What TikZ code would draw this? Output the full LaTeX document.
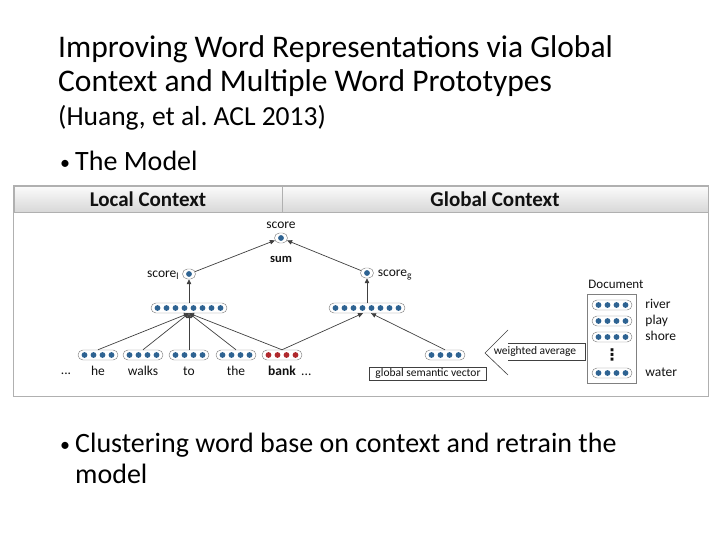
\documentclass[tikz,border=0pt]{standalone}
\usepackage{fontspec}
\setmainfont{Carlito}
\newfontfamily\symfont{DejaVu Sans}
\frenchspacing
\usetikzlibrary{arrows.meta,positioning,fit,calc,shapes.misc}
\definecolor{ink}{HTML}{111111}
\definecolor{edge}{HTML}{404040}
\definecolor{rim}{HTML}{808080}
\definecolor{frame}{HTML}{B0B0B0}
\definecolor{dotblue}{HTML}{2E6392}
\definecolor{dotred}{HTML}{B0282C}
\definecolor{headtop}{HTML}{FBFBFB}
\definecolor{headbot}{HTML}{D8D8D8}

% a word / layer vector: name, position, number of dots, dot colour
\newcommand\unitvec[4]{%
  \node[vecbox,minimum width={#3*9pt+4pt}] (#1) at (#2) {};
  \foreach \k in {1,...,#3}
    \fill[#4] ($(#1.center)+({(\k-(#3+1)/2)*9},0)$) circle (2.9pt);
}
\newcommand\bul{\makebox[15pt][l]{\raisebox{1pt}{\fontsize{20}{20}\selectfont•}}}

\begin{document}
\begin{tikzpicture}[
  x=1pt,y=1pt,
  >={Triangle[length=5pt,width=4.5pt]},
  arr/.style={->,draw=edge,line width=0.7pt},
  vecbox/.style={rounded rectangle,draw=rim,line width=0.45pt,minimum height=10pt,inner sep=0pt},
  headcell/.style={draw=frame,top color=headtop,bottom color=headbot,minimum height=26pt,
                   inner sep=0pt,font=\fontsize{21}{23}\selectfont\bfseries,text=ink},
  word/.style={font=\fontsize{13.5}{15}\selectfont,text=ink,inner sep=1pt,
               text height=9.5pt,text depth=2.5pt},
  tag/.style={draw=edge,line width=0.5pt,font=\fontsize{11.5}{13}\selectfont,
              inner xsep=3pt,inner ysep=1.5pt,text=ink},
  title/.style={font=\fontsize{31.5}{34}\selectfont,anchor=base west,inner sep=0pt},
  body/.style={font=\fontsize{28}{31}\selectfont,anchor=base west,inner sep=0pt}
]
\useasboundingbox (0,0) rectangle (720,540);

% Slide text
\node[title] (title1) at (58,482) {Improving Word Representations via Global};
\node[title] (title2) at (58,448) {Context and Multiple Word Prototypes};
\node[body,font=\fontsize{27.5}{30}\selectfont] (cite) at (58,414) {(Huang, et al. ACL 2013)};
\node[body] (item1) at (60,369) {\bul The Model};
\node[body] (item2) at (60,87) {\bul Clustering word base on context and retrain the};
\node[body] (item2b) at (75,56) {model};

% Frame and header
\node[headcell,minimum width=268pt] (localhd) at (148,341) {Local Context};
\node[headcell,minimum width=426pt] (globalhd) at (495,341) {Global Context};
\coordinate (framebot) at (708,144);
\draw[frame,line width=0.8pt] (localhd.north west) rectangle (framebot);

% Scores and hidden layers
\unitvec{score}{281,302}{1}{dotblue}
\unitvec{scorel}{189,266}{1}{dotblue}
\unitvec{scoreg}{367,267}{1}{dotblue}
\unitvec{hidl}{189,232}{8}{dotblue}
\unitvec{hidg}{367,232}{8}{dotblue}

\node[word,above=1pt of score] (scorelbl) {score};
\node[word,font=\fontsize{12.5}{14}\selectfont\bfseries,below=8.5pt of score] (sumlbl) {sum};
\node[word,left=2pt of scorel] (scorellbl) {score\textsubscript{l}};
\node[word,right=3pt of scoreg] (scoreglbl) {score\textsubscript{g}};

% Local context window
\foreach \nm/\xx in {he/98,walks/143,to/189,the/236}
  {\unitvec{\nm}{\xx,185}{4}{dotblue}}
\unitvec{bank}{282,185}{4}{dotred}

\node[word,below=4.5pt of he] (helbl) {he};
\node[word,below=4.5pt of walks] (walkslbl) {walks};
\node[word,below=4.5pt of to] (tolbl) {to};
\node[word,below=4.5pt of the] (thelbl) {the};
\node[word,font=\fontsize{13.5}{15}\selectfont\bfseries,below=4.5pt of bank] (banklbl) {bank};
\node[word] (dotsl) at (66,169) {...};
\node[word,right=3pt of banklbl] (dotsr) {...};

% Global context
\unitvec{gvec}{445,185}{4}{dotblue}
\node[tag,minimum width=117pt] (gsvlbl) at (428,166) {global semantic vector};

\foreach \nm/\yy in {doca/235,docb/219,docc/203,docd/167}
  {\unitvec{\nm}{612,\yy}{4}{dotblue}}
\node[font=\fontsize{16}{17}\selectfont\symfont\bfseries,text=ink,inner sep=0pt] (docdots) at (612,185) {⋮};
\node[draw=rim,line width=0.6pt,fit=(doca)(docd),inner xsep=4pt,inner ysep=5.5pt] (docbox) {};
\node[word,font=\fontsize{13}{15}\selectfont,above=2pt of docbox,xshift=4pt] (doclbl) {Document};
\node[word,right=12pt of doca] (riverlbl) {river};
\node[word,right=12pt of docb] (playlbl) {play};
\node[word,right=12pt of docc] (shorelbl) {shore};
\node[word,right=12pt of docd] (waterlbl) {water};

% weighted average arrow
\node[font=\fontsize{11.5}{13}\selectfont,text=ink,inner sep=0pt] (wavg) at (535,188) {weighted average};
\draw[edge,line width=0.6pt] ($(wavg.center)+(-27,8.5)$) -| ($(wavg.center)+(50,-8.5)$) -- ++(-77,0);
\draw[edge,line width=0.6pt] ($(wavg.center)+(-27,22)$) -- ($(wavg.center)+(-50,-1)$)
  -- ($(wavg.center)+(-27,-23)$);

% Arrows
\draw[arr] (scorel) -- (score);
\draw[arr] (scoreg) -- (score);
\draw[arr] (hidl.north) -- (scorel.south);
\draw[arr] (hidg.north) -- (scoreg.south);
\foreach \nm in {he,walks,to,the,bank}
  \draw[arr] (\nm.north) -- (hidl.south);
\draw[arr] (bank.north) -- ([xshift=-4pt]hidg.south);
\draw[arr] (gvec.north) -- ([xshift=4pt]hidg.south);

\end{tikzpicture}
\end{document}
